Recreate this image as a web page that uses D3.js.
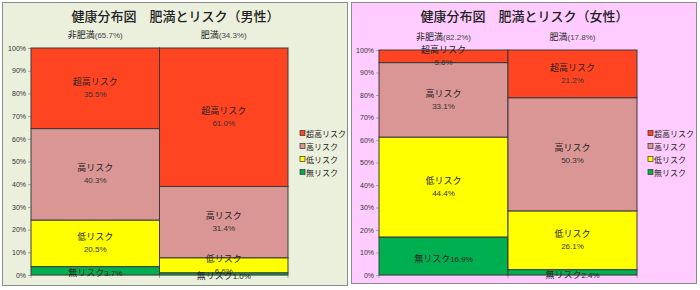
<!DOCTYPE html>
<html>
<head>
<meta charset="utf-8">
<script src="https://cdn.jsdelivr.net/npm/d3@7"></script>
<style>
  body { margin: 0; background: #fff; }
  svg { display: block; }
</style>
</head>
<body>
<div id="chart"></div>
<script>
// categories and series
const groups = ['非肥満', '肥満']
const riskKeys = ['無リスク', '低リスク', '高リスク', '超高リスク']
const yTicks = [0, 10, 20, 30, 40, 50, 60, 70, 80, 90, 100]

const maleShares = [65.7, 34.3]
const maleNoRisk = [3.7, 1.0]
const maleLowRisk = [20.5, 6.6]
const maleHighRisk = [40.3, 31.4]
const maleVeryHighRisk = [35.5, 61.0]

const femaleShares = [82.2, 17.8]
const femaleNoRisk = [16.9, 2.4]
const femaleLowRisk = [44.4, 26.1]
const femaleHighRisk = [33.1, 50.3]
const femaleVeryHighRisk = [5.6, 21.2]

const COLORS = {
  '無リスク': '#00b050',
  '低リスク': '#ffff00',
  '高リスク': '#d99694',
  '超高リスク': '#ff4422'
}
const FONT = '"Liberation Sans", "Noto Sans CJK JP", sans-serif'

const svg = d3.select('#chart').append('svg')
  .attr('width', 700).attr('height', 290)

function drawPanel(opts) {
  const { left, top, width, height, bg, title, shares, series, plot, legendX } = opts
  const panel = svg.append('g').attr('transform', `translate(${left},${top})`)

  panel.append('rect')
    .attr('x', 0.5).attr('y', 0.5)
    .attr('width', width).attr('height', height)
    .attr('fill', bg).attr('stroke', '#8c8c8c')

  panel.append('text')
    .attr('x', width / 2 + 1).attr('y', 19)
    .attr('text-anchor', 'middle')
    .style('font-family', FONT).style('font-size', '13px').style('font-weight', 500)
    .attr('fill', '#222')
    .text(title)

  const rows = groups.map((g, i) => {
    const r = { group: g }
    riskKeys.forEach((k, j) => { r[k] = series[j][i] })
    return r
  })
  const stacked = d3.stack().keys(riskKeys)(rows)

  const x = d3.scaleBand().domain(groups).range([plot.x0, plot.x1]).padding(0)
  const y = d3.scaleLinear().domain([0, 100]).range([plot.y1, plot.y0])

  // y axis
  panel.append('g')
    .attr('transform', `translate(${plot.x0},0)`)
    .call(d3.axisLeft(y).tickValues(yTicks).tickFormat(d => d + '%').tickSize(3).tickPadding(2))
    .call(sel => sel.select('.domain').attr('stroke', '#a6a6a6'))
    .call(sel => sel.selectAll('.tick line').attr('stroke', '#a6a6a6'))
    .call(sel => sel.selectAll('.tick text')
      .style('font-family', FONT).style('font-size', '7px').attr('fill', '#333'))

  // x axis (ticks only, at band edges)
  const xAxis = panel.append('g').attr('transform', `translate(0,${plot.y1})`)
  xAxis.append('line')
    .attr('x1', plot.x0).attr('x2', plot.x1)
    .attr('stroke', '#a6a6a6')
  xAxis.selectAll('line.tk')
    .data([...groups.map(g => x(g)), plot.x1])
    .enter().append('line').attr('class', 'tk')
    .attr('x1', d => d).attr('x2', d => d)
    .attr('y1', 0).attr('y2', 3)
    .attr('stroke', '#a6a6a6')

  // bars
  stacked.forEach(layer => {
    panel.append('g').selectAll('rect')
      .data(layer)
      .enter().append('rect')
      .attr('x', d => x(d.data.group))
      .attr('y', d => y(d[1]))
      .attr('width', x.bandwidth())
      .attr('height', d => y(d[0]) - y(d[1]))
      .attr('fill', COLORS[layer.key])
      .attr('stroke', '#3a3a3a').attr('stroke-width', 1)
  })

  // segment labels
  stacked.forEach(layer => {
    const lab = panel.append('g').selectAll('g')
      .data(layer)
      .enter().append('g')
      .attr('transform', d => `translate(${x(d.data.group) + x.bandwidth() / 2},${y((d[0] + d[1]) / 2)})`)
    if (layer.key === '無リスク') {
      const t = lab.append('text')
        .attr('text-anchor', 'middle').attr('dy', '0.35em')
        .style('font-family', FONT).attr('fill', '#222')
      t.append('tspan').style('font-size', '9px').text(layer.key)
      t.append('tspan').style('font-size', '8px').text(d => (d[1] - d[0]).toFixed(1) + '%')
    } else {
      lab.append('text')
        .attr('text-anchor', 'middle').attr('y', -6).attr('dy', '0.35em')
        .style('font-family', FONT).style('font-size', '9px').attr('fill', '#222')
        .text(layer.key)
      lab.append('text')
        .attr('text-anchor', 'middle').attr('y', 6).attr('dy', '0.35em')
        .style('font-family', FONT).style('font-size', '8px').attr('fill', '#333')
        .text(d => (d[1] - d[0]).toFixed(1) + '%')
    }
  })

  // group headers
  const head = panel.append('g').selectAll('text')
    .data(groups)
    .enter().append('text')
    .attr('x', d => x(d) + x.bandwidth() / 2)
    .attr('y', plot.y0 - 10)
    .attr('text-anchor', 'middle')
    .style('font-family', FONT).attr('fill', '#222')
  head.append('tspan').style('font-size', '9px').text(d => d)
  head.append('tspan').style('font-size', '8px').attr('fill', '#444')
    .text((d, i) => `(${shares[i].toFixed(1)}%)`)

  // legend
  const legend = panel.append('g').attr('transform', `translate(${legendX},132)`)
  const item = legend.selectAll('g')
    .data(riskKeys.slice().reverse())
    .enter().append('g')
    .attr('transform', (d, i) => `translate(0,${i * 13})`)
  item.append('rect')
    .attr('x', 0).attr('y', -3.5).attr('width', 5).attr('height', 5)
    .attr('fill', d => COLORS[d]).attr('stroke', '#333').attr('stroke-width', 0.7)
  item.append('text')
    .attr('x', 6).attr('y', 0).attr('dy', '0.35em')
    .style('font-family', FONT).style('font-size', '8px').attr('fill', '#222')
    .text(d => d)
}

drawPanel({
  left: 2, top: 2, width: 345, height: 283, bg: '#ebf0dd',
  title: '健康分布図　肥満とリスク（男性）',
  shares: maleShares,
  series: [maleNoRisk, maleLowRisk, maleHighRisk, maleVeryHighRisk],
  plot: { x0: 29, x1: 286, y0: 46, y1: 273 },
  legendX: 298
})

drawPanel({
  left: 351, top: 2, width: 345, height: 281, bg: '#ffccff',
  title: '健康分布図　肥満とリスク（女性）',
  shares: femaleShares,
  series: [femaleNoRisk, femaleLowRisk, femaleHighRisk, femaleVeryHighRisk],
  plot: { x0: 28, x1: 286, y0: 48, y1: 273 },
  legendX: 297
})
</script>
</body>
</html>
